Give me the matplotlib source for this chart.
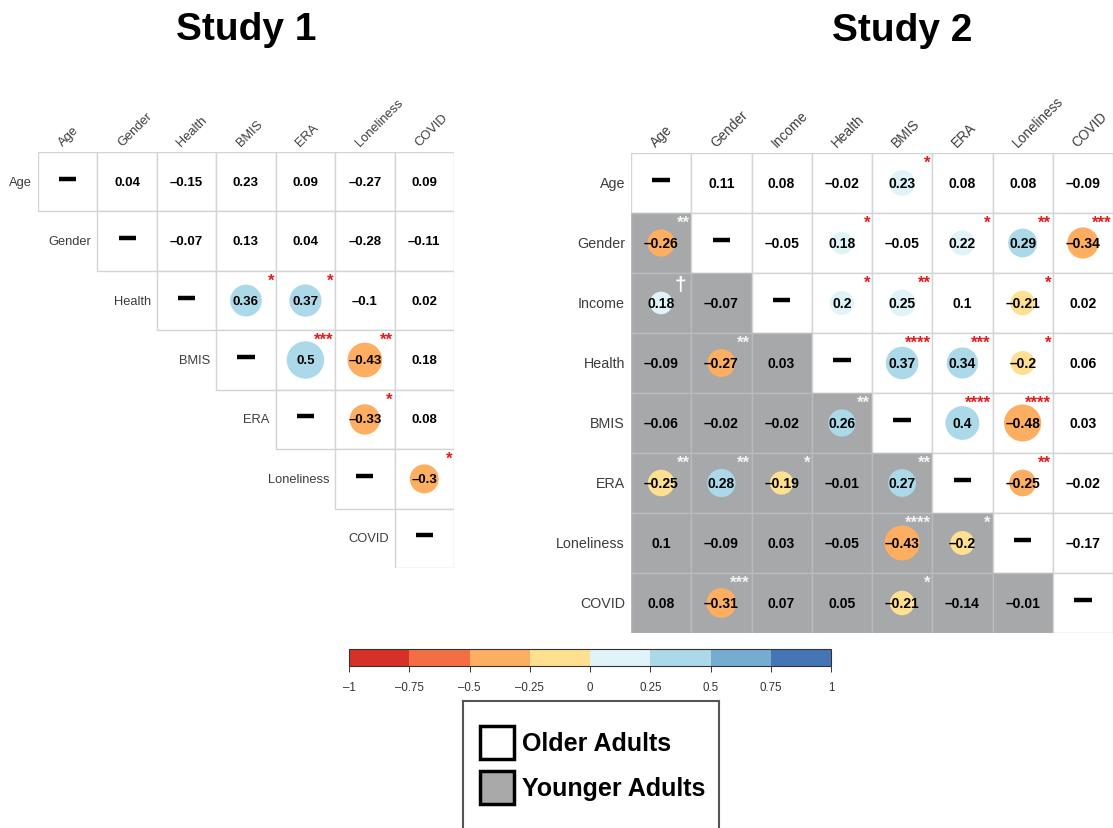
import numpy as np
import matplotlib.pyplot as plt
from matplotlib.patches import Rectangle, Circle
from matplotlib.colors import ListedColormap, BoundaryNorm
import matplotlib as mpl

plt.rcParams['font.family'] = ['Liberation Sans', 'DejaVu Sans']

nan = np.nan

# ---- data -------------------------------------------------------------
vars1 = ['Age', 'Gender', 'Health', 'BMIS', 'ERA', 'Loneliness', 'COVID']
vars2 = ['Age', 'Gender', 'Income', 'Health', 'BMIS', 'ERA', 'Loneliness', 'COVID']

# study 1: older adults only (upper triangle)
r1 = np.array([
    [nan, 0.04, -0.15, 0.23, 0.09, -0.27, 0.09],
    [nan, nan, -0.07, 0.13, 0.04, -0.28, -0.11],
    [nan, nan, nan, 0.36, 0.37, -0.10, 0.02],
    [nan, nan, nan, nan, 0.50, -0.43, 0.18],
    [nan, nan, nan, nan, nan, -0.33, 0.08],
    [nan, nan, nan, nan, nan, nan, -0.30],
    [nan, nan, nan, nan, nan, nan, nan],
])
sig1 = [
    ['', '', '', '', '', '', ''],
    ['', '', '', '', '', '', ''],
    ['', '', '', '*', '*', '', ''],
    ['', '', '', '', '***', '**', ''],
    ['', '', '', '', '', '*', ''],
    ['', '', '', '', '', '', '*'],
    ['', '', '', '', '', '', ''],
]

# study 2: upper = older adults, lower = younger adults
r2 = np.array([
    [nan, 0.11, 0.08, -0.02, 0.23, 0.08, 0.08, -0.09],
    [-0.26, nan, -0.05, 0.18, -0.05, 0.22, 0.29, -0.34],
    [0.18, -0.07, nan, 0.20, 0.25, 0.10, -0.21, 0.02],
    [-0.09, -0.27, 0.03, nan, 0.37, 0.34, -0.20, 0.06],
    [-0.06, -0.02, -0.02, 0.26, nan, 0.40, -0.48, 0.03],
    [-0.246, 0.28, -0.19, -0.01, 0.27, nan, -0.25, -0.02],
    [0.10, -0.09, 0.03, -0.05, -0.43, -0.20, nan, -0.17],
    [0.08, -0.31, 0.07, 0.05, -0.21, -0.14, -0.01, nan],
])
sig2 = [
    ['', '', '', '', '*', '', '', ''],
    ['**', '', '', '*', '', '*', '**', '***'],
    ['\u2020', '', '', '*', '**', '', '*', ''],
    ['', '**', '', '', '****', '***', '*', ''],
    ['', '', '', '**', '', '****', '****', ''],
    ['**', '**', '*', '', '**', '', '**', ''],
    ['', '', '', '', '****', '*', '', ''],
    ['', '***', '', '', '*', '', '', ''],
]

bounds = np.linspace(-1, 1, 9)
bin_colors = ['#d73027', '#f46d43', '#fdae61', '#fee090',
              '#e0f3f8', '#abd9e9', '#74add1', '#4575b4']
cbar_ticks = [-1, -0.75, -0.5, -0.25, 0, 0.25, 0.5, 0.75, 1]

GREY = '#a6a8aa'

W, H = 1113, 829
fig = plt.figure(figsize=(W / 100, H / 100), dpi=100)


def px_axes(x, y, w, h):
    return fig.add_axes([x / W, 1 - (y + h) / H, w / W, h / H])


def fmt(v):
    s = f"{v:.2f}".rstrip('0').rstrip('.')
    return s.replace('-', '\u2013')


def bin_color(v):
    i = np.digitize(v, bounds, right=True) - 1
    return bin_colors[int(np.clip(i, 0, 7))]


def draw_matrix(ax, names, r, sig, lower, fs, col_fs, row_fs):
    n = len(names)
    ax.set_xlim(0, n)
    ax.set_ylim(n, 0)
    ax.axis('off')
    for i in range(n):
        for j in range(n):
            if j < i and not lower:
                continue
            younger = j < i
            face = GREY if younger else 'white'
            edge = '#b9bbbd' if younger else '#d4d4d4'
            ax.add_patch(Rectangle((j, i), 1, 1, facecolor=face,
                                   edgecolor=edge, lw=1, zorder=1))
            if i == j:
                ax.plot([j + 0.355, j + 0.645], [i + 0.45, i + 0.45],
                        color='black', lw=3.2, solid_capstyle='butt', zorder=3)
                continue
            v = r[i, j]
            s = sig[i][j]
            if s:
                ax.add_patch(Circle((j + 0.5, i + 0.5), 0.445 * np.sqrt(abs(v)),
                                    facecolor=bin_color(v), edgecolor='none',
                                    zorder=2))
                scol = '#f4f4f4' if younger else '#e31a1c'
                if s == '\u2020':
                    ax.text(j + 0.92, i + 0.03, s, color='white', fontsize=15,
                            fontweight='bold', ha='right', va='top', zorder=4)
                else:
                    ax.text(j + 0.97, i + 0.03, s, color=scol, fontsize=12,
                            fontweight='bold', ha='right', va='top', zorder=4)
            ax.text(j + 0.5, i + 0.5, fmt(v), fontsize=fs, fontweight='bold',
                    ha='center', va='center', zorder=3)
    for j, name in enumerate(names):
        ax.text(j + 0.45, -0.06, name, rotation=45, rotation_mode='anchor',
                ha='left', va='bottom', fontsize=col_fs, color='#3c3c3c',
                clip_on=False)
    for i, name in enumerate(names):
        x = -0.1 if lower else i - 0.1
        ax.text(x, i + 0.5, name, ha='right', va='center', fontsize=row_fs,
                color='#3c3c3c', clip_on=False)


ax1 = px_axes(38, 153, 416, 416)
draw_matrix(ax1, vars1, r1, sig1, False, 9.5, 9.3, 9.3)

ax2 = px_axes(631, 154, 482, 480)
draw_matrix(ax2, vars2, r2, sig2, True, 10, 9.8, 10.3)

fig.text(246 / W, 1 - 40 / H, 'Study 1', fontsize=28, fontweight='bold',
         ha='center', va='baseline')
fig.text(902 / W, 1 - 41 / H, 'Study 2', fontsize=28, fontweight='bold',
         ha='center', va='baseline')

# colour bar
cax = px_axes(349, 650, 482, 17)
cmap = ListedColormap(bin_colors)
norm = BoundaryNorm(bounds, cmap.N)
cb = fig.colorbar(mpl.cm.ScalarMappable(norm=norm, cmap=cmap), cax=cax,
                  orientation='horizontal', ticks=cbar_ticks)
cb.set_ticklabels([fmt(t) for t in cbar_ticks])
cb.outline.set_edgecolor('#333333')
cb.outline.set_linewidth(0.8)
cax.tick_params(length=4, width=0.7, colors='#333333', labelsize=8.3, pad=7)

# group legend
lax = px_axes(463, 702, 256, 130)
lax.set_xlim(0, 256)
lax.set_ylim(130, 0)
lax.set_xticks([])
lax.set_yticks([])
for sp in lax.spines.values():
    sp.set_edgecolor('#555555')
    sp.set_linewidth(1.5)
groups = ['Older Adults', 'Younger Adults']
group_faces = ['white', '#a9a9a9']
for k, (g, fc) in enumerate(zip(groups, group_faces)):
    y0 = 25 + 45 * k
    lax.add_patch(Rectangle((17, y0), 34, 33, facecolor=fc, edgecolor='black', lw=2.5))
    lax.text(59, y0 + 17, g, fontsize=18, fontweight='bold', ha='left', va='center')

fig.savefig('out.png', dpi=100)
